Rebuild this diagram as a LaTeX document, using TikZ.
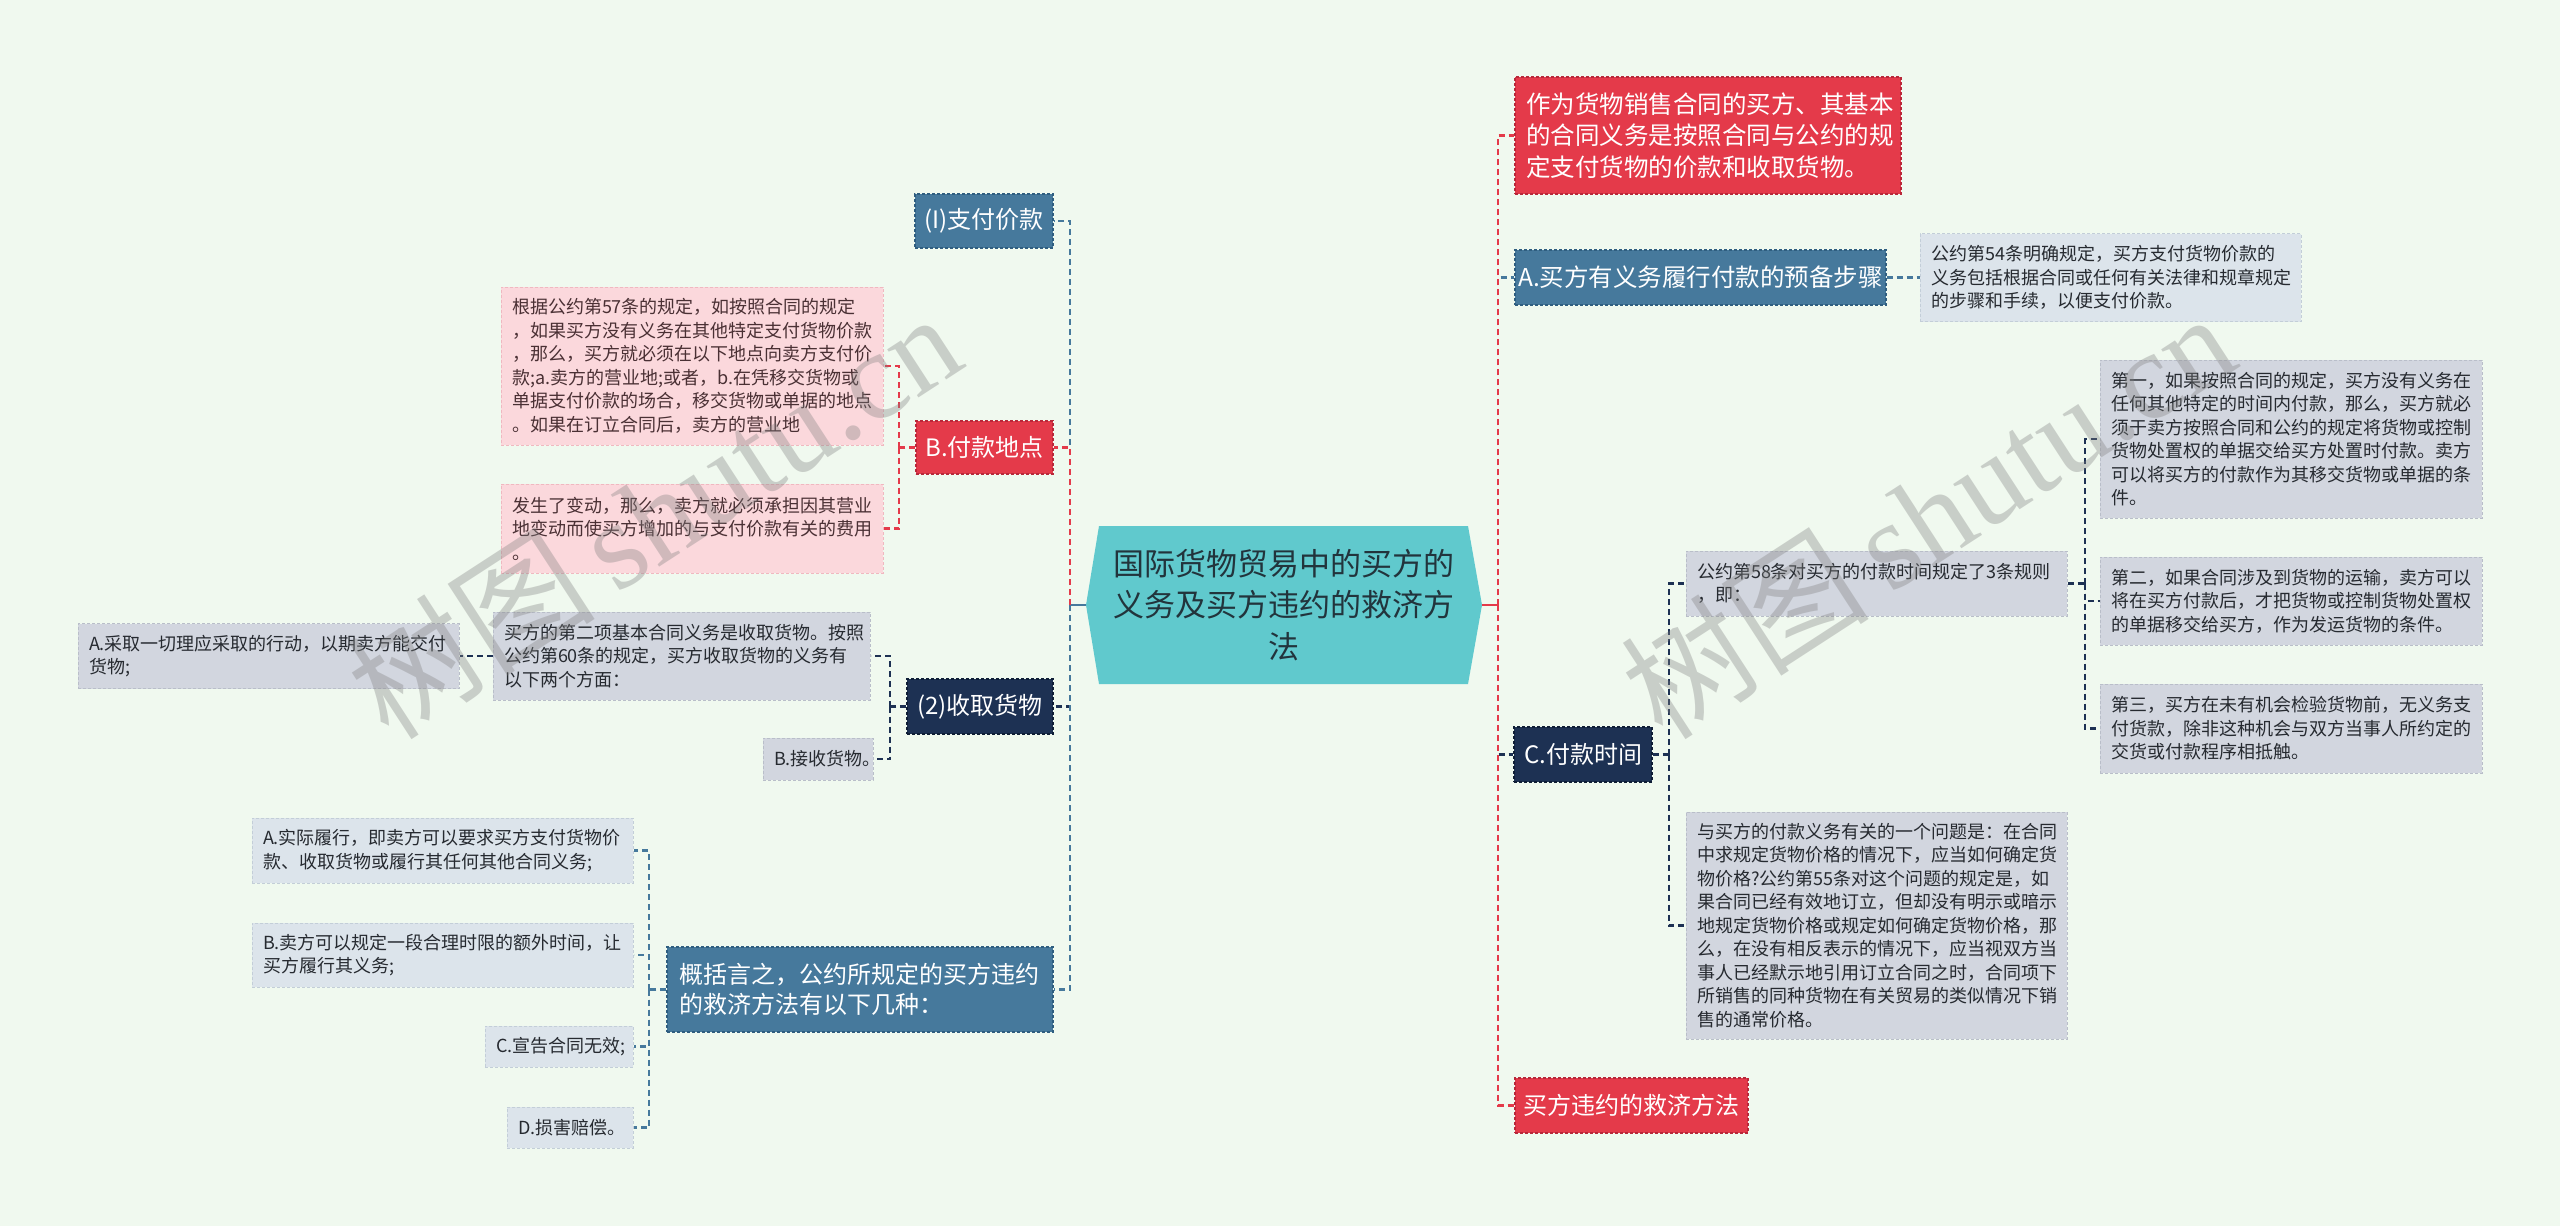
\documentclass[tikz,border=0pt]{standalone}
\usepackage{fontspec}
\setmainfont{Noto Sans CJK SC}
\newfontfamily\wmserif{Liberation Serif}
\definecolor{bgC}{HTML}{F0F9EF}
\definecolor{tealC}{HTML}{60C9CD}
\definecolor{rootT}{HTML}{22343C}
\definecolor{redB}{HTML}{E43A4A}
\definecolor{redD}{HTML}{B8283A}
\definecolor{blueB}{HTML}{46799C}
\definecolor{blueD}{HTML}{2F5E80}
\definecolor{navyB}{HTML}{1D3153}
\definecolor{navyD}{HTML}{0F1E36}
\definecolor{pinkL}{HTML}{FBD8DC}
\definecolor{pinkD}{HTML}{F0B8C0}
\definecolor{grayL}{HTML}{D2D6DF}
\definecolor{grayD}{HTML}{B9BEC9}
\definecolor{bgrayL}{HTML}{DCE4EB}
\definecolor{bgrayD}{HTML}{C3CED8}
\definecolor{pinkT}{HTML}{4A3034}
\definecolor{grayT}{HTML}{262A30}
\begin{document}
\begin{tikzpicture}[x=1pt,y=-1pt,
  conn/.style={line width=2.4pt, dash pattern=on 6pt off 4pt},
  solidc/.style={line width=2.4pt},
  topbox/.style={rectangle, inner sep=0pt, text=white, font=\fontsize{24}{30}\selectfont, line width=1.2pt, dash pattern=on 3pt off 2pt},
  redbox/.style={topbox, fill=redB, draw=redD},
  bluebox/.style={topbox, fill=blueB, draw=blueD},
  navybox/.style={topbox, fill=navyB, draw=navyD},
  leaf/.style={rectangle, inner xsep=11pt, inner ysep=0pt, align=left, font=\fontsize{18}{23.5}\selectfont, line width=1pt, dash pattern=on 3pt off 2pt},
  pinkleaf/.style={leaf, fill=pinkL, draw=pinkD, text=pinkT},
  grayleaf/.style={leaf, fill=grayL, draw=grayD, text=grayT},
  bgrayleaf/.style={leaf, fill=bgrayL, draw=bgrayD, text=grayT},
  wm/.style={rotate=33, text=gray, opacity=0.35, inner sep=0pt}
]
\fill[bgC] (0,0) rectangle (2560,1226);
\useasboundingbox (0,0) rectangle (2560,1226);

% root
\fill[tealC] (1086,605) -- (1099,526) -- (1468,526) -- (1482,605) -- (1468,684) -- (1099,684) -- cycle;
\node[minimum width=396pt, minimum height=158pt, inner sep=0pt, align=center, text=rootT, font=\fontsize{31}{41.5}\selectfont] (root) at (1284,605) {国际货物贸易中的买方的\\义务及买方违约的救济方\\法};

% ---- left side
\node[bluebox, minimum width=138pt, minimum height=54pt] (c1) at (984,221) {(I)支付价款};
\node[redbox, minimum width=137pt, minimum height=53pt] (c2) at (984.5,447.5) {B.付款地点};
\node[pinkleaf, text width=360pt, minimum height=158pt] (p1) at (692,366) {根据公约第57条的规定，如按照合同的规定\\，如果买方没有义务在其他特定支付货物价款\\，那么，买方就必须在以下地点向卖方支付价\\款;a.卖方的营业地;或者，b.在凭移交货物或\\单据支付价款的场合，移交货物或单据的地点\\。如果在订立合同后，卖方的营业地};
\node[pinkleaf, text width=360pt, minimum height=89pt] (p2) at (692,528.5) {发生了变动，那么，卖方就必须承担因其营业\\地变动而使买方增加的与支付价款有关的费用\\。};

\node[navybox, minimum width=146pt, minimum height=55pt] (c3) at (980,706.5) {(2)收取货物};
\node[grayleaf, text width=355pt, minimum height=88pt] (n1) at (681.5,656) {买方的第二项基本合同义务是收取货物。按照\\公约第60条的规定，买方收取货物的义务有\\以下两个方面：};
\node[grayleaf, text width=359pt, minimum height=65pt] (n1a) at (268.5,656) {A.采取一切理应采取的行动，以期卖方能交付\\货物;};
\node[grayleaf, text width=88pt, minimum height=42pt] (n2) at (818,759) {B.接收货物。};

\node[bluebox, align=left, inner xsep=12pt, text width=362pt, minimum height=85pt] (c4) at (860,989.5) {概括言之，公约所规定的买方违约\\的救济方法有以下几种：};
\node[bgrayleaf, text width=359pt, minimum height=65pt] (g1) at (442.5,850.5) {A.实际履行，即卖方可以要求买方支付货物价\\款、收取货物或履行其任何其他合同义务;};
\node[bgrayleaf, text width=359pt, minimum height=64pt] (g2) at (442.5,955) {B.卖方可以规定一段合理时限的额外时间，让\\买方履行其义务;};
\node[bgrayleaf, text width=126pt, minimum height=41pt] (g3) at (559,1046.5) {C.宣告合同无效;};
\node[bgrayleaf, text width=104pt, minimum height=41pt] (g4) at (570,1127.5) {D.损害赔偿。};

% ---- right side
\node[redbox, align=left, inner xsep=11pt, text width=364pt, minimum height=117pt, font=\fontsize{24.5}{31.5}\selectfont] (r1) at (1708,135.5) {作为货物销售合同的买方、其基本\\的合同义务是按照合同与公约的规\\定支付货物的价款和收取货物。};
\node[bluebox, minimum width=371pt, minimum height=55pt, font=\fontsize{24.5}{30}\selectfont] (r2) at (1700.5,277.5) {A.买方有义务履行付款的预备步骤};
\node[bgrayleaf, text width=359pt, minimum height=88pt] (r2a) at (2110.5,277.5) {公约第54条明确规定，买方支付货物价款的\\义务包括根据合同或任何有关法律和规章规定\\的步骤和手续，以便支付价款。};

\node[navybox, minimum width=138pt, minimum height=55pt] (r3) at (1583,754.5) {C.付款时间};
\node[grayleaf, text width=359pt, minimum height=65pt] (r3a) at (1876.5,583.5) {公约第58条对买方的付款时间规定了3条规则\\，即：};
\node[grayleaf, text width=360pt, minimum height=158pt] (r3a1) at (2291,439) {第一，如果按照合同的规定，买方没有义务在\\任何其他特定的时间内付款，那么，买方就必\\须于卖方按照合同和公约的规定将货物或控制\\货物处置权的单据交给买方处置时付款。卖方\\可以将买方的付款作为其移交货物或单据的条\\件。};
\node[grayleaf, text width=360pt, minimum height=88pt] (r3a2) at (2291,601) {第二，如果合同涉及到货物的运输，卖方可以\\将在买方付款后，才把货物或控制货物处置权\\的单据移交给买方，作为发运货物的条件。};
\node[grayleaf, text width=360pt, minimum height=89pt] (r3a3) at (2291,728.5) {第三，买方在未有机会检验货物前，无义务支\\付货款，除非这种机会与双方当事人所约定的\\交货或付款程序相抵触。};
\node[grayleaf, text width=359pt, minimum height=227pt] (r3b) at (1876.5,925.5) {与买方的付款义务有关的一个问题是：在合同\\中求规定货物价格的情况下，应当如何确定货\\物价格?公约第55条对这个问题的规定是，如\\果合同已经有效地订立，但却没有明示或暗示\\地规定货物价格或规定如何确定货物价格，那\\么，在没有相反表示的情况下，应当视双方当\\事人已经默示地引用订立合同之时，合同项下\\所销售的同种货物在有关贸易的类似情况下销\\售的通常价格。};
\node[redbox, minimum width=233pt, minimum height=55pt] (r4) at (1631.5,1105.5) {买方违约的救济方法};

% ---- junction coordinates
\coordinate (LJ) at (1070,605);
\coordinate (RJ) at (1498,605);
\coordinate (BJ) at (899,447.5);
\coordinate (NJ) at (890,706.5);
\coordinate (GJ) at (649,989.5);
\coordinate (CJ) at (1669,754.5);
\coordinate (SJ) at (2085,583.5);

% ---- left connectors
\draw[solidc, blueB] (root.west) -- (LJ);
\draw[conn, blueB] (LJ) |- (c1.east);
\draw[conn, redB] (LJ) |- (c2.east);
\draw[conn, navyB] (LJ) |- (c3.east);
\draw[conn, blueB] (LJ) |- (c4.east);

\draw[conn, redB] (c2.west) -- (BJ);
\draw[conn, redB] (BJ) |- (p1.east);
\draw[conn, redB] (BJ) |- (p2.east);

\draw[conn, navyB] (c3.west) -- (NJ);
\draw[conn, navyB] (NJ) |- (n1.east);
\draw[conn, navyB] (NJ) |- (n2.east);
\draw[conn, navyB] (n1.west) -- (n1a.east);

\draw[conn, blueB] (c4.west) -- (GJ);
\draw[conn, blueB] (GJ) |- (g1.east);
\draw[conn, blueB] (GJ) |- (g2.east);
\draw[conn, blueB] (GJ) |- (g3.east);
\draw[conn, blueB] (GJ) |- (g4.east);

% ---- right connectors
\draw[solidc, redB] (root.east) -- (RJ);
\draw[conn, blueB] (RJ) |- (r2.west);
\draw[conn, redB] (RJ) |- (r1.west);
\draw[conn, navyB] (RJ) |- (r3.west);
\draw[conn, redB] (RJ) |- (r4.west);

\draw[conn, blueB] (r2.east) -- (r2a.west);

\draw[conn, navyB] (r3.east) -- (CJ);
\draw[conn, navyB] (CJ) |- (r3a.west);
\draw[conn, navyB] (CJ) |- (r3b.west);

\draw[conn, navyB] (r3a.east) -- (SJ);
\draw[conn, navyB] (SJ) |- (r3a1.west);
\draw[conn, navyB] (SJ) |- (r3a2.west);
\draw[conn, navyB] (SJ) |- (r3a3.west);

% ---- watermarks
\node[wm, font=\fontsize{125}{125}\selectfont] (wm1) at (653,514) {树图\,{\wmserif shutu.cn}};
\node[wm, font=\fontsize{125}{125}\selectfont] (wm2) at (1927,514) {树图\,{\wmserif shutu.cn}};
\end{tikzpicture}
\end{document}
